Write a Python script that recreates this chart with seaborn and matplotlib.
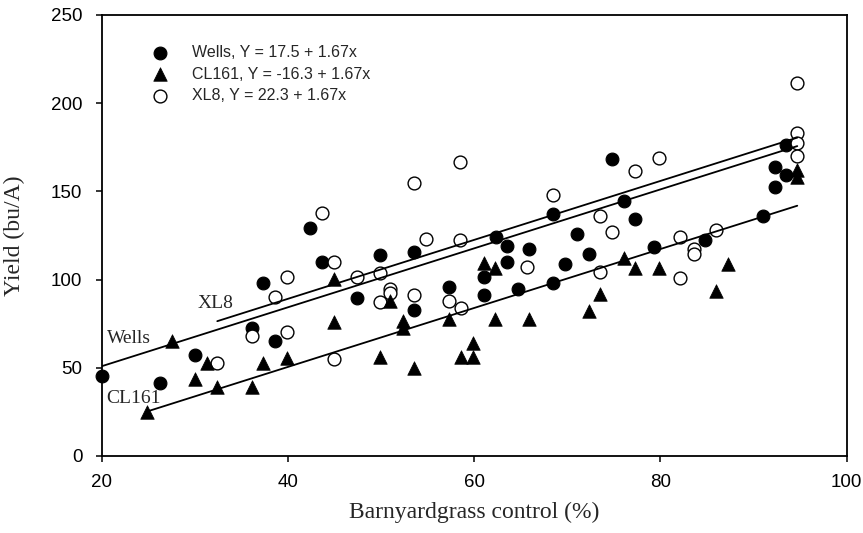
import matplotlib
matplotlib.use('Agg')
import matplotlib.pyplot as plt
import seaborn as sns
import numpy as np
import pandas as pd

# data
wells_x = [20.0, 26.2, 30.0, 36.1, 38.6, 37.3, 42.4, 43.6, 47.4, 49.9, 53.5, 53.5,
           57.3, 61.0, 61.0, 62.3, 63.5, 63.5, 64.7, 65.9, 68.5, 68.5, 69.7, 71.0,
           72.3, 74.8, 76.1, 77.3, 79.3, 84.8, 91.0, 92.3, 92.3, 93.5, 93.5]
wells_y = [45.2, 41.2, 57.1, 72.4, 65.0, 97.9, 129.1, 109.8, 89.4, 113.8, 115.5, 82.6,
           95.6, 101.3, 91.1, 124.0, 118.9, 109.8, 94.5, 117.2, 137.0, 97.9, 108.7, 125.7,
           114.4, 168.2, 144.4, 134.2, 118.3, 122.3, 135.9, 163.7, 152.3, 176.1, 159.1]

cl161_x = [24.9, 27.5, 30.0, 31.3, 32.4, 36.1, 37.3, 39.9, 44.9, 44.9, 49.9, 51.0,
           52.3, 52.3, 53.5, 57.3, 58.6, 59.9, 59.9, 61.0, 62.2, 62.2, 65.9, 72.3,
           73.5, 76.1, 77.3, 79.8, 86.0, 87.3, 94.7, 94.7]
cl161_y = [24.8, 65.0, 43.5, 52.6, 39.0, 39.0, 52.6, 55.4, 100.1, 75.7, 55.9, 87.7,
           76.3, 72.4, 49.7, 77.9, 55.9, 55.9, 63.9, 109.2, 106.4, 77.5, 77.5, 82.0,
           91.6, 112.1, 106.4, 106.4, 93.4, 108.7, 162.0, 158.1]

xl8_x = [32.4, 36.1, 39.9, 38.6, 39.9, 43.7, 44.9, 44.9, 47.4, 49.9, 49.9, 51.0,
         51.0, 53.5, 53.5, 54.8, 57.3, 58.5, 58.5, 58.6, 65.7, 68.5, 73.5, 73.5,
         74.8, 77.3, 79.8, 82.1, 82.1, 83.6, 83.6, 86.0, 94.7, 94.7, 94.7, 94.7]
xl8_y = [52.6, 68.0, 70.2, 90.0, 101.3, 137.6, 109.8, 54.8, 101.3, 103.5, 87.1, 94.5,
         92.2, 154.6, 91.1, 122.8, 87.7, 166.5, 122.3, 83.7, 107.0, 147.8, 135.9, 104.1,
         126.8, 161.4, 168.8, 124.0, 100.7, 117.2, 114.4, 128.0, 211.3, 182.9, 177.2, 169.8]

# regression lines from the legend
intercepts = {'Wells': 17.5, 'CL161': -16.3, 'XL8': 22.3}
slope = 1.67

sns.set_style('ticks')
plt.rcParams['font.family'] = ['Liberation Sans', 'DejaVu Sans']

fig = plt.figure(figsize=(8.63, 5.33), dpi=100)
ax = fig.add_axes([0.118, 0.1445, 0.863, 0.8275])

df_w = pd.DataFrame({'x': wells_x, 'y': wells_y})
df_c = pd.DataFrame({'x': cl161_x, 'y': cl161_y})
df_x = pd.DataFrame({'x': xl8_x, 'y': xl8_y})

sns.scatterplot(data=df_w, x='x', y='y', ax=ax, marker='o', s=85, color='black',
                edgecolor='black', linewidth=0.8, clip_on=False, zorder=3,
                label='Wells, Y = 17.5 + 1.67x')
sns.scatterplot(data=df_x, x='x', y='y', ax=ax, marker='o', s=85, facecolor='white',
                edgecolor='black', linewidth=1.0, clip_on=False, zorder=4,
                label='XL8, Y = 22.3 + 1.67x')
sns.scatterplot(data=df_c, x='x', y='y', ax=ax, marker='^', s=95, color='black',
                edgecolor='black', linewidth=0.5, clip_on=False, zorder=5,
                label='CL161, Y = -16.3 + 1.67x')

# fitted lines over each series' range
x_end = max(max(wells_x), max(cl161_x), max(xl8_x))
for name, xs in [('Wells', wells_x), ('CL161', cl161_x), ('XL8', xl8_x)]:
    lx = np.array([min(xs), x_end])
    ax.plot(lx, intercepts[name] + slope * lx, color='black', lw=1.3, zorder=6)

serif = ['Liberation Serif', 'DejaVu Serif']
ax.text(30.3, 86.6, 'XL8', family=serif, fontsize=14, va='center', ha='left')
ax.text(20.6, 66.7, 'Wells', family=serif, fontsize=14, va='center', ha='left')
ax.text(20.5, 32.4, 'CL161', family=serif, fontsize=14, va='center', ha='left')

ax.set_xlim(20, 100)
ax.set_ylim(0, 250)
ax.set_xticks([20, 40, 60, 80, 100])
ax.set_yticks([0, 50, 100, 150, 200, 250])
ax.tick_params(direction='out', length=4, width=1.1, labelsize=13.5, colors='black')
ax.tick_params(axis='x', pad=9)
ax.tick_params(axis='y', pad=10)
for sp in ax.spines.values():
    sp.set_linewidth(1.3)
    sp.set_color('black')

ax.set_xlabel('Barnyardgrass control (%)', family=serif, fontsize=17)
ax.set_ylabel('Yield (bu/A)', family=serif, fontsize=17)
ax.xaxis.set_label_coords(0.5, -0.104)
ax.yaxis.set_label_coords(-0.103, 0.5)

h, l = ax.get_legend_handles_labels()
order = [0, 2, 1]
ax.legend([h[i] for i in order], [l[i] for i in order], loc='upper left',
          bbox_to_anchor=(0.048, 0.946), frameon=False, fontsize=11.5,
          handletextpad=1.0, labelspacing=0.4, borderaxespad=0)

fig.savefig('out.png', dpi=100)
